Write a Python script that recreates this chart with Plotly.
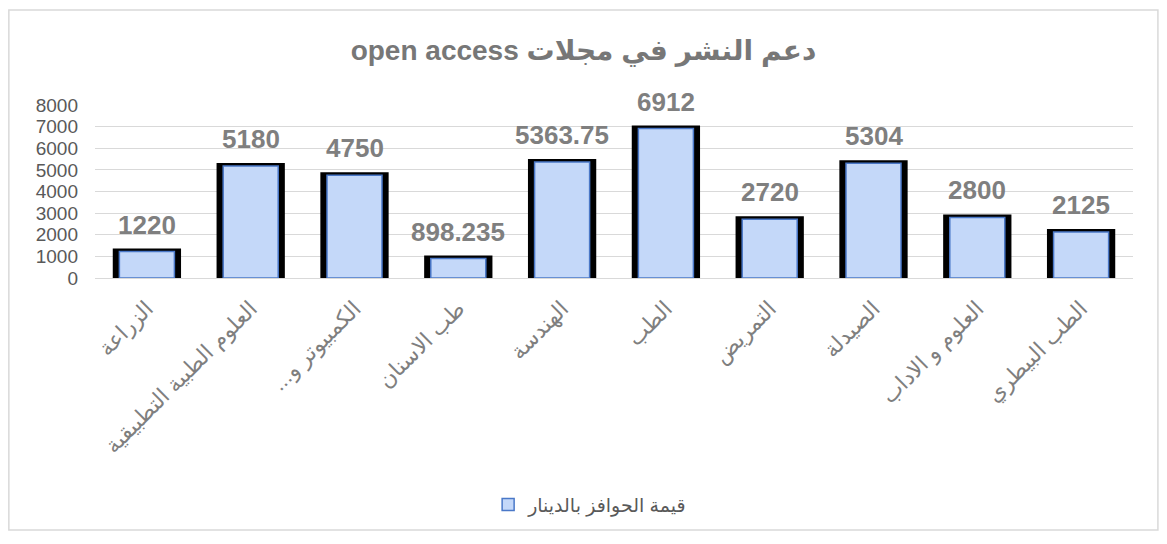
import plotly.graph_objects as go

categories = ["الزراعة", "العلوم الطبية التطبيقية", "الكمبيوتر و...\u200f", "طب الاسنان", "الهندسة",
              "الطب", "التمريض", "الصيدلة", "العلوم و الاداب", "الطب البيطري"]
values = [1220, 5180, 4750, 898.235, 5363.75, 6912, 2720, 5304, 2800, 2125]
series_name = "قيمة الحوافز بالدينار"
title = "\u202bدعم النشر في مجلات open access\u202c"

labels = [f"{v:g}" for v in values]

fig = go.Figure()
# black frame behind each bar
fig.add_trace(go.Bar(x=categories, y=values, width=0.6, marker=dict(color="black", line=dict(color="black", width=6)),
                     showlegend=False, hoverinfo="skip"))
# light blue face
fig.add_trace(go.Bar(x=categories, y=values, width=0.53, name=series_name,
                     marker=dict(color="#c4d8f9", line=dict(color="#4a78c8", width=1.5))))

for c, v, t in zip(categories, values, labels):
    fig.add_annotation(x=c, y=v, text=f"<b>{t}</b>", showarrow=False, yshift=27,
                       font=dict(size=26, color="#7f7f7f", family="Arial, Liberation Sans, DejaVu Sans"))

# the page adds an 8px body margin, so the figure is a bit smaller than the window
fig.update_layout(
    width=1151, height=528,
    barmode="overlay",
    paper_bgcolor="white", plot_bgcolor="white",
    margin=dict(l=87, r=26, t=97, b=256),
    font=dict(family="Arial, Liberation Sans, DejaVu Sans", color="#595959"),
    title=dict(text=f"<b>{title}</b>", x=0.5, xanchor="center", y=0.92, yanchor="middle",
               font=dict(size=28, color="#777777")),
    showlegend=True,
    legend=dict(orientation="h", x=0.477, xanchor="center", y=-1.31, yanchor="middle",
                font=dict(size=19, color="#595959")),
)
fig.update_yaxes(range=[0, 8000], dtick=1000, showgrid=True, gridcolor="#d9d9d9", gridwidth=1,
                 zeroline=False, tickfont=dict(size=19, color="#595959"), ticks="", ticklabelstandoff=16)
fig.update_xaxes(tickangle=-45, tickfont=dict(size=22, color="#7f7f7f"), showline=True,
                 linecolor="#d9d9d9", ticks="", ticklabelstandoff=8)

# outer chart border
fig.add_shape(type="rect", xref="paper", yref="paper", x0=-0.083, x1=1.024, y0=-1.457, y1=1.549,
              line=dict(color="#d9d9d9", width=1.5), fillcolor="rgba(0,0,0,0)", layer="below")

fig.write_html("out.html")
